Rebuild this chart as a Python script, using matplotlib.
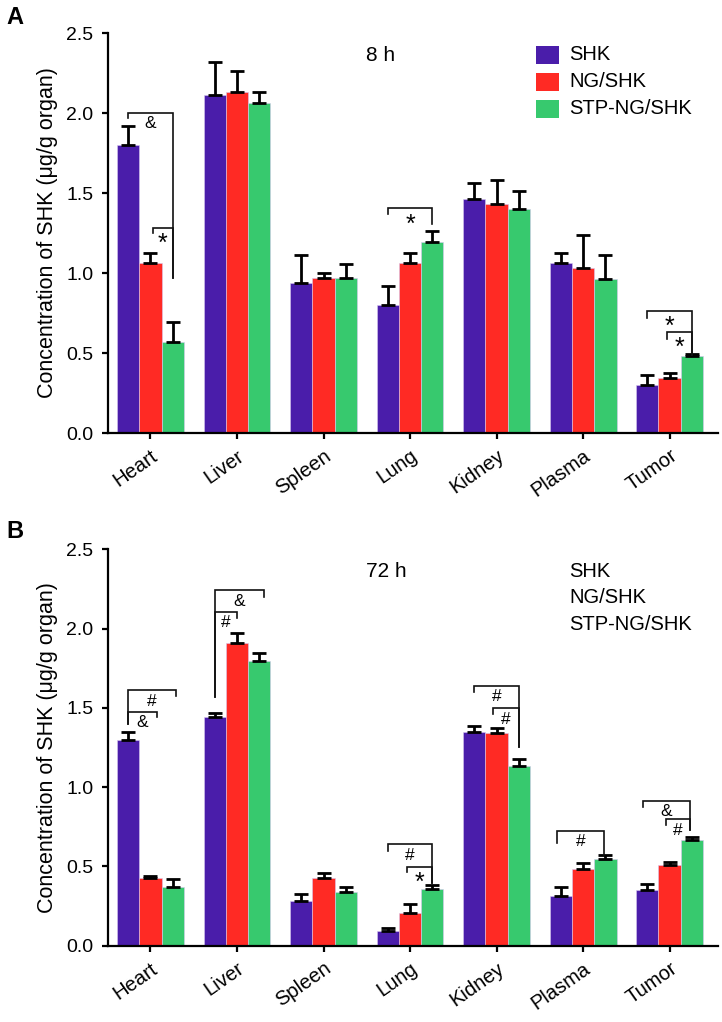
import matplotlib
matplotlib.use('Agg')
import matplotlib.pyplot as plt
from matplotlib.patches import Rectangle

plt.rcParams['font.family'] = ['Liberation Sans', 'DejaVu Sans']

organs = ['Heart', 'Liver', 'Spleen', 'Lung', 'Kidney', 'Plasma', 'Tumor']
series = ['SHK', 'NG/SHK', 'STP-NG/SHK']
colors = ['#4A1DAA', '#FF2A24', '#37C96E']
y_ticks = [0.0, 0.5, 1.0, 1.5, 2.0, 2.5]

# 8 h
shk_8h = [1.80, 2.11, 0.935, 0.80, 1.46, 1.065, 0.30]
shk_8h_err = [0.12, 0.21, 0.18, 0.12, 0.10, 0.063, 0.064]
ng_8h = [1.065, 2.13, 0.967, 1.065, 1.43, 1.03, 0.346]
ng_8h_err = [0.063, 0.135, 0.031, 0.063, 0.15, 0.205, 0.031]
stp_8h = [0.57, 2.06, 0.967, 1.196, 1.40, 0.965, 0.483]
stp_8h_err = [0.125, 0.07, 0.09, 0.066, 0.115, 0.148, 0.013]

# 72 h
shk_72h = [1.297, 1.444, 0.282, 0.095, 1.345, 0.313, 0.349]
shk_72h_err = [0.053, 0.021, 0.044, 0.015, 0.040, 0.055, 0.038]
ng_72h = [0.425, 1.907, 0.425, 0.208, 1.339, 0.482, 0.507]
ng_72h_err = [0.015, 0.063, 0.031, 0.055, 0.036, 0.038, 0.019]
stp_72h = [0.368, 1.795, 0.340, 0.357, 1.135, 0.547, 0.666]
stp_72h_err = [0.051, 0.053, 0.032, 0.026, 0.040, 0.025, 0.021]

# significance brackets: (organ, left bar, right bar, top, left end, right end, label)
brackets_8h = [
    (0, 0, 2, 2.003, 1.97, 0.97, '&'),
    (0, 1.1, 2, 1.283, 1.25, 0.97, '*'),
    (3, 0, 2, 1.404, 1.367, 1.306, '*'),
    (6, 0, 2, 0.7625, 0.72, 0.49, '*'),
    (6, 0.89, 2, 0.633, 0.586, 0.49, '*'),
]
brackets_72h = [
    (0, 0, 2.14, 1.612, 1.40, 1.574, '#'),
    (0, 0, 1.3, 1.475, 1.40, 1.444, '&'),
    (1, 0, 2.21, 2.243, 1.57, 2.20, '&'),
    (1, 0, 1.0, 2.106, 1.57, 2.068, '#'),
    (3, 0, 2, 0.641, 0.599, 0.393, '#'),
    (3, 0.85, 2, 0.498, 0.467, 0.393, '*'),
    (4, 0, 2, 1.64, 1.598, 1.255, '#'),
    (4, 0.86, 2, 1.497, 1.461, 1.255, '#'),
    (5, -0.17, 1.96, 0.725, 0.646, 0.572, '#'),
    (6, -0.2, 1.92, 0.914, 0.876, 0.73, '&'),
    (6, 0.84, 1.92, 0.797, 0.761, 0.73, '#'),
]

W = 0.258

fig = plt.figure(figsize=(7.22, 10.22), dpi=100)


def draw_panel(ax, vals, errs, brackets, time_label, patches):
    x = list(range(len(organs)))
    for s in range(3):
        xs = [xi + (s - 1) * W for xi in x]
        ax.bar(xs, vals[s], width=W, color=colors[s], edgecolor='#d8c8f0',
               linewidth=0.4, zorder=2)
        ax.errorbar(xs, vals[s], yerr=[[0] * len(x), errs[s]], fmt='none',
                    ecolor='black', elinewidth=2.0, capsize=5.2, capthick=2.0,
                    zorder=3)
    for g, sl, sr, top, lend, rend, lab in brackets:
        xl = g + (sl - 1) * W
        xr = g + (sr - 1) * W
        ax.plot([xl, xl, xr, xr], [lend, top, top, rend], color='#111111',
                lw=1.2, zorder=4, solid_joinstyle='miter')
        xm = (xl + xr) / 2
        if lab == '*':
            ax.annotate(lab, (xm, top), xytext=(0, -3), textcoords='offset points',
                        ha='center', va='top', fontsize=18, zorder=5)
        else:
            ax.annotate(lab, (xm, top), xytext=(0, -8), textcoords='offset points',
                        ha='center', va='center', fontsize=12.5, zorder=5)
    ax.set_xlim(-0.491, 6.56)
    ax.set_ylim(0, 2.5)
    ax.set_yticks(y_ticks)
    ax.set_yticklabels(['%.1f' % t for t in y_ticks])
    ax.set_xticks(x)
    ax.set_xticklabels(organs, rotation=35, ha='right', va='top',
                       rotation_mode='anchor')
    for sp in ['top', 'right']:
        ax.spines[sp].set_visible(False)
    for sp in ['left', 'bottom']:
        ax.spines[sp].set_linewidth(1.6)
    ax.tick_params(axis='both', direction='out', length=4.5, width=1.6)
    ax.tick_params(axis='y', pad=6, labelsize=14)
    ax.tick_params(axis='x', pad=5, labelsize=14.5)
    ax.set_ylabel('Concentration of SHK (μg/g organ)', fontsize=15.5, labelpad=6)
    ax.text(2.49, 2.36, time_label, fontsize=15, ha='left', va='center')
    ys = [2.3625, 2.194, 2.025]
    for s in range(3):
        if patches:
            ax.add_patch(Rectangle((4.453, ys[s] - 0.057), 0.27, 0.114,
                                   facecolor=colors[s], edgecolor='none',
                                   clip_on=False))
        ax.text(4.84, ys[s], series[s], fontsize=14.5, ha='left', va='center')


axA = fig.add_axes([108 / 722, (1022 - 433) / 1022, 610 / 722, 400 / 1022])
draw_panel(axA, [shk_8h, ng_8h, stp_8h], [shk_8h_err, ng_8h_err, stp_8h_err],
           brackets_8h, '8 h', True)

axB = fig.add_axes([108 / 722, (1022 - 945.7) / 1022, 610 / 722, 396.4 / 1022])
draw_panel(axB, [shk_72h, ng_72h, stp_72h], [shk_72h_err, ng_72h_err, stp_72h_err],
           brackets_72h, '72 h', False)

fig.text(6 / 722, 1 - 18 / 1022, 'A', fontsize=17, fontweight='bold',
         ha='left', va='center')
fig.text(6 / 722, 1 - 531 / 1022, 'B', fontsize=17, fontweight='bold',
         ha='left', va='center')

fig.savefig('out.png', dpi=100)
